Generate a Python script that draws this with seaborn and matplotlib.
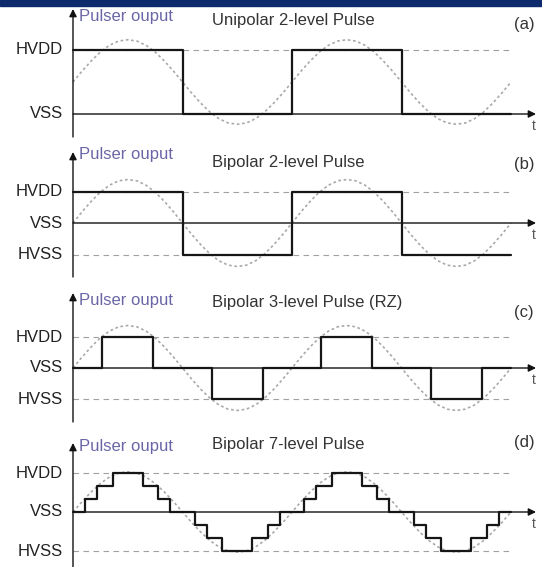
import matplotlib
matplotlib.use('Agg')
from matplotlib import pyplot as plt
import seaborn as sns

# ---- data (phase in degrees, level in supply units) ----
# reference sine drawn behind every pulse train, sampled every 15 deg over 2 periods
ref_deg = [0, 15, 30, 45, 60, 75, 90, 105, 120, 135, 150, 165, 180, 195, 210, 225, 240, 255,
           270, 285, 300, 315, 330, 345, 360, 375, 390, 405, 420, 435, 450, 465, 480, 495,
           510, 525, 540, 555, 570, 585, 600, 615, 630, 645, 660, 675, 690, 705, 720]
ref_wave = [0, 0.26, 0.5, 0.71, 0.87, 0.97, 1, 0.97, 0.87, 0.71, 0.5, 0.26, 0, -0.26, -0.5,
            -0.71, -0.87, -0.97, -1, -0.97, -0.87, -0.71, -0.5, -0.26, 0, 0.26, 0.5, 0.71,
            0.87, 0.97, 1, 0.97, 0.87, 0.71, 0.5, 0.26, 0, -0.26, -0.5, -0.71, -0.87, -0.97,
            -1, -0.97, -0.87, -0.71, -0.5, -0.26, 0]
# sine amplitude / centre as drawn in each panel
ref_amp = [0.66, 1.38, 1.37, 1.03]
ref_mid = [0.5, 0, 0, 0]

# (a) unipolar 2-level
uni_t = [0, 180, 360, 540, 720]
uni_v = [1, 0, 1, 0, 0]
# (b) bipolar 2-level
bi2_t = [0, 180, 360, 540, 720]
bi2_v = [1, -1, 1, -1, -1]
# (c) bipolar 3-level, return to zero
rz_t = [0, 48, 132, 228, 312, 408, 492, 588, 672, 720]
rz_v = [0, 1, 0, -1, 0, 1, 0, -1, 0, 0]
# (d) bipolar 7-level staircase (levels in thirds of HVDD)
st_t = [0, 20, 40, 65, 115, 140, 160, 200, 220, 245, 295, 320, 340,
        360, 380, 400, 425, 475, 500, 520, 560, 580, 605, 655, 680, 700, 720]
st_v = [0, 1, 2, 3, 2, 1, 0, -1, -2, -3, -2, -1, 0,
        0, 1, 2, 3, 2, 1, 0, -1, -2, -3, -2, -1, 0, 0]

titles = ['Unipolar 2-level Pulse', 'Bipolar 2-level Pulse',
          'Bipolar 3-level Pulse (RZ)', 'Bipolar 7-level Pulse']
tags = ['(a)', '(b)', '(c)', '(d)']
ylab = 'Pulser ouput'
xlab = 't'

traces = [(uni_t, uni_v), (bi2_t, bi2_v), (rz_t, rz_v),
          (st_t, [v / 3 for v in st_v])]
levels = [[('HVDD', 1), ('VSS', 0)],
          [('HVDD', 1), ('VSS', 0), ('HVSS', -1)],
          [('HVDD', 1), ('VSS', 0), ('HVSS', -1)],
          [('HVDD', 1), ('VSS', 0), ('HVSS', -1)]]

# ---- layout (pixels of the 542x567 picture) ----
W, H = 542, 567
X0_PX, DEG_PX = 73, 438 / 720
# band top, band bottom, VSS row, px per unit, arrow tip, axis bottom, pulser y, title y, tag y
panels = [(6, 140, 114, 64, 9, 137, 17, 21, 24),
          (140, 283, 223, 31.5, 152, 277, 155, 162, 165),
          (283, 425, 368, 31, 293, 422, 301, 303, 313),
          (425, 567, 512, 39, 443, 567, 446, 445, 443)]


def xd(px):
    return (px - X0_PX) / DEG_PX


sns.set_theme(style='white')
plt.rcParams['font.family'] = ['Liberation Sans', 'DejaVu Sans']

fig = plt.figure(figsize=(W / 100, H / 100), dpi=100)
fig.patches.append(plt.Rectangle((0, 1 - 6 / H), 1, 6 / H, transform=fig.transFigure,
                                 color='#0c2a6c', zorder=0))

for i, (top, bot, vss, unit, tip, axbot, py, ty, gy) in enumerate(panels):
    ax = fig.add_axes([0, 1 - bot / H, 1, (bot - top) / H])

    def yd(px):
        return (vss - px) / unit

    ax.set_xlim(xd(0), xd(W))
    ax.set_ylim(yd(bot), yd(top))
    ax.axis('off')

    # grey dotted reference sine
    sine = [ref_mid[i] + ref_amp[i] * v for v in ref_wave]
    sns.lineplot(x=ref_deg, y=sine, ax=ax, color='#a9a9a9', lw=1.2,
                 linestyle=(0, (1.6, 1.6)), estimator=None, sort=False, zorder=1)

    # dashed supply rails
    for name, lv in levels[i]:
        if lv != 0:
            ax.plot([0, 720], [lv, lv], color='#a0a0a0', lw=0.8,
                    linestyle=(0, (5, 4)), zorder=2)

    # axes with arrow heads
    ax.annotate('', xy=(0, yd(tip)), xytext=(0, yd(axbot)), annotation_clip=False,
                arrowprops=dict(arrowstyle='-|>', color='#111111', lw=1.0,
                                mutation_scale=11, shrinkA=0, shrinkB=0), zorder=3)
    ax.annotate('', xy=(xd(536), 0), xytext=(0, 0), annotation_clip=False,
                arrowprops=dict(arrowstyle='-|>', color='#111111', lw=1.0,
                                mutation_scale=11, shrinkA=0, shrinkB=0), zorder=3)
    ax.text(xd(532), yd(vss + 12), xlab, fontsize=10, color='#555555',
            ha='left', va='center', clip_on=False)

    # pulse train
    t, v = traces[i]
    sns.lineplot(x=t, y=v, ax=ax, color='#161616', lw=1.6, drawstyle='steps-post',
                 estimator=None, sort=False, zorder=4)

    # labels
    for name, lv in levels[i]:
        ax.text(xd(63), lv, name, fontsize=12, color='#222222',
                ha='right', va='center', clip_on=False)
    ax.text(xd(79), yd(py), ylab, fontsize=12, color='#6a66a6',
            ha='left', va='center', clip_on=False)
    ax.text(xd(212), yd(ty), titles[i], fontsize=12, color='#333333',
            ha='left', va='center', clip_on=False)
    ax.text(xd(524), yd(gy), tags[i], fontsize=12, color='#333333',
            ha='center', va='center', clip_on=False)

fig.savefig('out.png', dpi=100)
